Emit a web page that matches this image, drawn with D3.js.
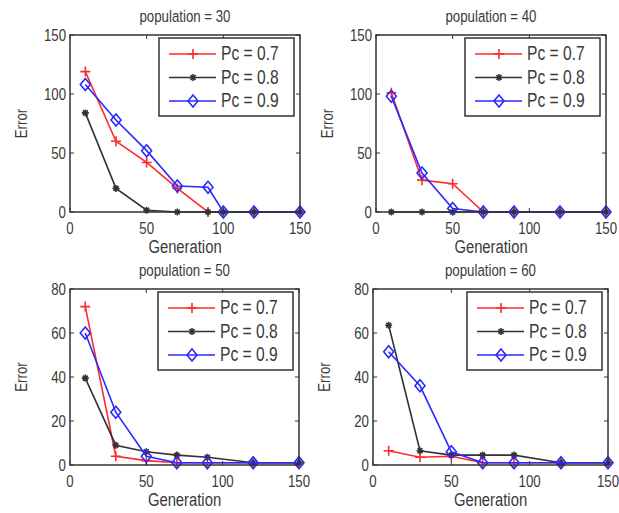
<!DOCTYPE html>
<html>
<head>
<meta charset="utf-8">
<script src="https://cdn.jsdelivr.net/npm/d3@7"></script>
<style>
  body { margin: 0; background: #fff; }
  text { font-family: "Liberation Sans", Arial, sans-serif; fill: #3a3a3a; }
</style>
</head>
<body>
<svg width="619" height="513"></svg>
<script>
"use strict";

const gens30 = [10, 30, 50, 70, 90, 100, 120, 150];
const gens = [10, 30, 50, 70, 90, 120, 150];
const seriesNames = ["Pc = 0.7", "Pc = 0.8", "Pc = 0.9"];
const xTicks = [0, 50, 100, 150];

const pop30_07 = [119, 60, 42, 20, 0, 0, 0, 0];
const pop30_08 = [84, 20, 1.5, 0, 0, 0, 0, 0];
const pop30_09 = [108, 78, 52, 22, 21, 0, 0, 0];

const pop40_07 = [101, 27, 24, 0, 0, 0, 0];
const pop40_08 = [0, 0, 0, 0, 0, 0, 0];
const pop40_09 = [98, 33, 3, 0, 0, 0, 0];

const pop50_07 = [72, 4, 2, 1, 1, 1, 1];
const pop50_08 = [39.5, 9, 6, 4.5, 3.5, 1, 1];
const pop50_09 = [60, 24, 4, 1, 1, 1, 1];

const pop60_07 = [6.5, 3.5, 4, 1, 1, 1, 1];
const pop60_08 = [63.5, 6.5, 4.5, 4.5, 4.5, 1, 1];
const pop60_09 = [51.5, 36, 6, 1, 1, 1, 1];

const panels = [
    {title: "population = 30", x: gens30, series: [pop30_07, pop30_08, pop30_09], yMax: 150, yTicks: [0, 50, 100, 150],
     left: 70, top: 35, w: 230, h: 177},
    {title: "population = 40", x: gens, series: [pop40_07, pop40_08, pop40_09], yMax: 150, yTicks: [0, 50, 100, 150],
     left: 376, top: 35, w: 230, h: 177},
    {title: "population = 50", x: gens, series: [pop50_07, pop50_08, pop50_09], yMax: 80, yTicks: [0, 20, 40, 60, 80],
     left: 70, top: 289, w: 229, h: 176},
    {title: "population = 60", x: gens, series: [pop60_07, pop60_08, pop60_09], yMax: 80, yTicks: [0, 20, 40, 60, 80],
     left: 373, top: 289, w: 235, h: 176}
];

const colors = ["#ff2a2a", "#333333", "#2a2aff"];
const markers = ["plus", "star", "diamond"];
const squeeze = 0.78; // text in the picture is narrow

function addText(g, x, y, str, size, anchor, rotate) {
    const rot = rotate ? ` rotate(${rotate})` : "";
    return g.append("text")
        .attr("transform", `translate(${x},${y})${rot} scale(${squeeze},1)`)
        .attr("text-anchor", anchor || "start")
        .attr("font-size", size)
        .text(str);
}

function drawMarker(g, type, x, y, color) {
    let d;
    if (type === "plus") {
        d = `M${x-5},${y}H${x+5}M${x},${y-5}V${y+5}`;
    } else if (type === "star") {
        d = `M${x-3.5},${y}H${x+3.5}M${x},${y-3.5}V${y+3.5}M${x-2.5},${y-2.5}L${x+2.5},${y+2.5}M${x-2.5},${y+2.5}L${x+2.5},${y-2.5}`;
    } else {
        d = `M${x},${y-6}L${x+5},${y}L${x},${y+6}L${x-5},${y}Z`;
    }
    g.append("path").attr("d", d)
        .attr("stroke", color).attr("stroke-width", 1.6).attr("fill", "none");
}

const svg = d3.select("svg");

panels.forEach(p => {
    const g = svg.append("g");
    const x = d3.scaleLinear().domain([0, 150]).range([p.left, p.left + p.w]);
    const y = d3.scaleLinear().domain([0, p.yMax]).range([p.top + p.h, p.top]);

    // series
    p.series.forEach((vals, i) => {
        const pts = vals.map((v, j) => [x(p.x[j]), y(v)]);
        g.append("path")
            .attr("d", d3.line()(pts))
            .attr("fill", "none")
            .attr("stroke", colors[i])
            .attr("stroke-width", 1.6);
        pts.forEach(pt => drawMarker(g, markers[i], pt[0], pt[1], colors[i]));
    });

    // axes box
    g.append("rect")
        .attr("x", p.left).attr("y", p.top).attr("width", p.w).attr("height", p.h)
        .attr("fill", "none").attr("stroke", "#333").attr("stroke-width", 1.5);

    // inward ticks on all four sides
    const tickLen = 4;
    xTicks.forEach(t => {
        g.append("line").attr("x1", x(t)).attr("x2", x(t)).attr("y1", p.top + p.h).attr("y2", p.top + p.h - tickLen)
            .attr("stroke", "#333");
        g.append("line").attr("x1", x(t)).attr("x2", x(t)).attr("y1", p.top).attr("y2", p.top + tickLen)
            .attr("stroke", "#333");
        addText(g, x(t), p.top + p.h + 22, t, 17, "middle");
    });
    p.yTicks.forEach(t => {
        g.append("line").attr("x1", p.left).attr("x2", p.left + tickLen).attr("y1", y(t)).attr("y2", y(t))
            .attr("stroke", "#333");
        g.append("line").attr("x1", p.left + p.w).attr("x2", p.left + p.w - tickLen).attr("y1", y(t)).attr("y2", y(t))
            .attr("stroke", "#333");
        addText(g, p.left - 4, y(t) + 6, t, 17, "end");
    });

    // labels
    addText(g, p.left + p.w / 2, p.top - 13, p.title, 17, "middle");
    addText(g, p.left + p.w / 2, p.top + p.h + 41, "Generation", 19, "middle");
    addText(g, p.left - 43, p.top + p.h / 2, "Error", 17, "middle", -90);

    // legend
    const lx = p.left + p.w - 141, ly = p.top + 3;
    g.append("rect").attr("x", lx).attr("y", ly).attr("width", 135).attr("height", 78)
        .attr("fill", "#fff").attr("stroke", "#333").attr("stroke-width", 1.5);
    seriesNames.forEach((name, i) => {
        const ry = ly + 16 + i * 23.5;
        g.append("line").attr("x1", lx + 10).attr("x2", lx + 57).attr("y1", ry).attr("y2", ry)
            .attr("stroke", colors[i]).attr("stroke-width", 1.6);
        drawMarker(g, markers[i], lx + 34, ry, colors[i]);
        addText(g, lx + 62, ry + 6, name, 20, "start");
    });
});
</script>
</body>
</html>
